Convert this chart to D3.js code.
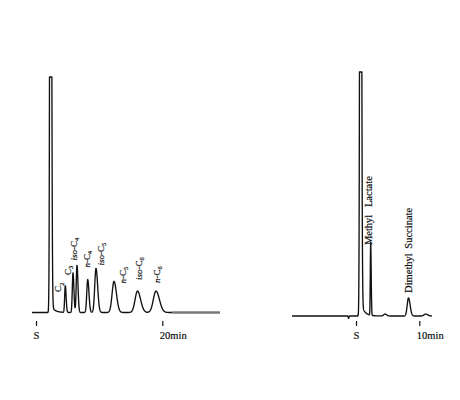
<!DOCTYPE html>
<html>
<head>
<meta charset="utf-8">
<script src="https://cdn.jsdelivr.net/npm/d3@7"></script>
<style>
  html, body { margin: 0; padding: 0; background: #fff; }
  svg { display: block; }
  text { font-family: "Liberation Serif", "DejaVu Serif", serif; fill: #111; }
</style>
</head>
<body>
<div id="chart"></div>
<script>
'use strict';

// left run: C2-C6 hydrocarbons (first peak is the solvent, off scale)
var gasNames = ['', 'C2', 'C3', 'iso-C4', 'n-C4', 'iso-C5', 'n-C5', 'iso-C6', 'n-C6'];
var gasTimes = [2.30, 4.64, 5.86, 6.49, 8.19, 9.50, 12.35, 16.07, 19.00];     // min
var gasHeights = [400, 11.3, 16.8, 20.0, 14.0, 18.7, 13.2, 9.1, 9.1];        // response
var gasWidths = [0.10, 0.10, 0.11, 0.12, 0.15, 0.20, 0.30, 0.38, 0.42];      // sigma, min
var gasTails = [3.4, 0, 0, 0, 0, 0, 0, 0, 0];
var gasTicks = [0, 20];
var gasTickLabels = ['S', '20min'];

// right run: esters
var esterNames = ['', '', 'Methyl Lactate', '', 'Dimethyl Succinate', ''];
var esterTimes = [-1.18, 0.71, 2.32, 4.58, 8.29, 11.0];
var esterHeights = [-1.0, 400, 29.9, 0.8, 7.4, 0.8];
var esterWidths = [0.04, 0.10, 0.06, 0.20, 0.20, 0.25];
var esterTails = [0, 6, 0, 0, 0, 0];
var esterTicks = [0, 10];
var esterTickLabels = ['S', '10min'];

var width = 460, height = 400;
var TAILING = 1.3, TAIL_TAU = 0.55, PEN_LIMIT = 100;

var svg = d3.select('#chart')
    .append('svg')
    .attr('width', width)
    .attr('height', height);

svg.append('rect').attr('width', width).attr('height', height).attr('fill', '#fff');

function makePeaks(names, times, heights, widths, tails) {
    return times.map(function (t, i) {
        return {name: names[i], rt: t, h: heights[i], sigma: widths[i], tail: tails[i]};
    });
}

function signal(t, peaks) {
    var y = 0;
    peaks.forEach(function (p) {
        var s = t < p.rt ? p.sigma : p.sigma * TAILING;
        var z = (t - p.rt) / s;
        y += p.h * Math.exp(-0.5 * z * z);
        if (p.tail && t > p.rt) {
            y += p.tail * Math.exp(-(t - p.rt) / TAIL_TAU) * (1 - Math.exp(-z * z));
        }
    });
    // recorder pen stops at full scale
    return Math.min(y, PEN_LIMIT);
}

function label(sel, name, size) {
    var m = /^(?:(iso|n)-)?C(\d)$/.exec(name);
    if (!m) { sel.text(name); return; }
    if (m[1]) {
        sel.append('tspan').attr('font-style', 'italic').text(m[1]);
        sel.append('tspan').text('-');
    }
    sel.append('tspan').text('C');
    sel.append('tspan').attr('font-size', size * 0.7).attr('dy', size * 0.25).text(m[2]);
}

function panel(opt) {
    var peaks = makePeaks(opt.names, opt.times, opt.heights, opt.widths, opt.tails);
    var x = d3.scaleLinear().domain([0, opt.tickValues[1]]).range(opt.xRange);
    var y = d3.scaleLinear().domain([0, PEN_LIMIT]).range(opt.yRange);
    var t0 = x.invert(opt.left), t1 = x.invert(opt.right);
    var pts = d3.range(t0, t1, 0.01).map(function (t) { return [t, signal(t, peaks)]; });

    var line = d3.line()
        .x(function (d) { return x(d[0]); })
        .y(function (d) { return y(d[1]); });

    var g = svg.append('g');
    g.append('path')
        .datum(pts)
        .attr('d', line)
        .attr('fill', 'none')
        .attr('stroke', '#111')
        .attr('stroke-width', 1.35)
        .attr('stroke-linejoin', 'round');

    if (opt.fadeFrom) {
        g.append('path')
            .datum(pts.filter(function (d) { return d[0] >= opt.fadeFrom; }))
            .attr('d', line)
            .attr('fill', 'none')
            .attr('stroke', '#777')
            .attr('stroke-width', 1.8);
    }

    var axis = d3.axisBottom(x)
        .tickValues(opt.tickValues)
        .tickSize(5)
        .tickPadding(6)
        .tickFormat(function (d, i) { return opt.tickLabels[i]; });

    var ax = g.append('g')
        .attr('transform', 'translate(0,' + opt.axisY + ')')
        .call(axis);
    ax.select('.domain').remove();
    ax.selectAll('line').attr('stroke', '#111').attr('stroke-width', 1.2);
    ax.selectAll('text')
        .attr('font-family', '"Liberation Serif", serif')
        .attr('font-size', 10.5)
        .attr('fill', '#111')
        .attr('stroke', '#111')
        .attr('stroke-width', 0.2)
        .attr('text-anchor', function (d, i) { return i === 0 ? 'middle' : 'start'; })
        .attr('dx', function (d, i) { return i === 0 ? 0 : -3; });

    // rotated peak labels
    peaks.forEach(function (p, i) {
        if (!p.name) { return; }
        var nudge = opt.nudge[i];
        var lx = x(p.rt) + nudge[0] + opt.labelSize * 0.35;
        var ly = y(Math.min(p.h, PEN_LIMIT)) + nudge[1];
        var t = g.append('text')
            .attr('transform', 'translate(' + lx + ',' + ly + ') rotate(-90)')
            .attr('font-size', opt.labelSize)
            .attr('stroke', '#111')
            .attr('stroke-width', 0.2)
            .attr('word-spacing', nudge[2] || 0);
        label(t, p.name, opt.labelSize);
    });
}

panel({
    names: gasNames, times: gasTimes, heights: gasHeights, widths: gasWidths, tails: gasTails,
    tickValues: gasTicks, tickLabels: gasTickLabels,
    xRange: [36, 162.3], yRange: [312.5, 77], left: 32, right: 220, axisY: 321,
    fadeFrom: 21.5, labelSize: 9,
    nudge: [[0, 0], [-7, 6], [-5, 2], [-3, -5], [-1, -12], [5, -3], [9, 2], [1, -11], [1, -8]]
});

panel({
    names: esterNames, times: esterTimes, heights: esterHeights, widths: esterWidths, tails: esterTails,
    tickValues: esterTicks, tickLabels: esterTickLabels,
    xRange: [356, 419.3], yRange: [316, 72], left: 292, right: 432, axisY: 321,
    labelSize: 10.5,
    nudge: [[0, 0], [0, 0], [-2, 2, 5], [0, 0], [0, -5, 2], [0, 0]]
});
</script>
</body>
</html>
